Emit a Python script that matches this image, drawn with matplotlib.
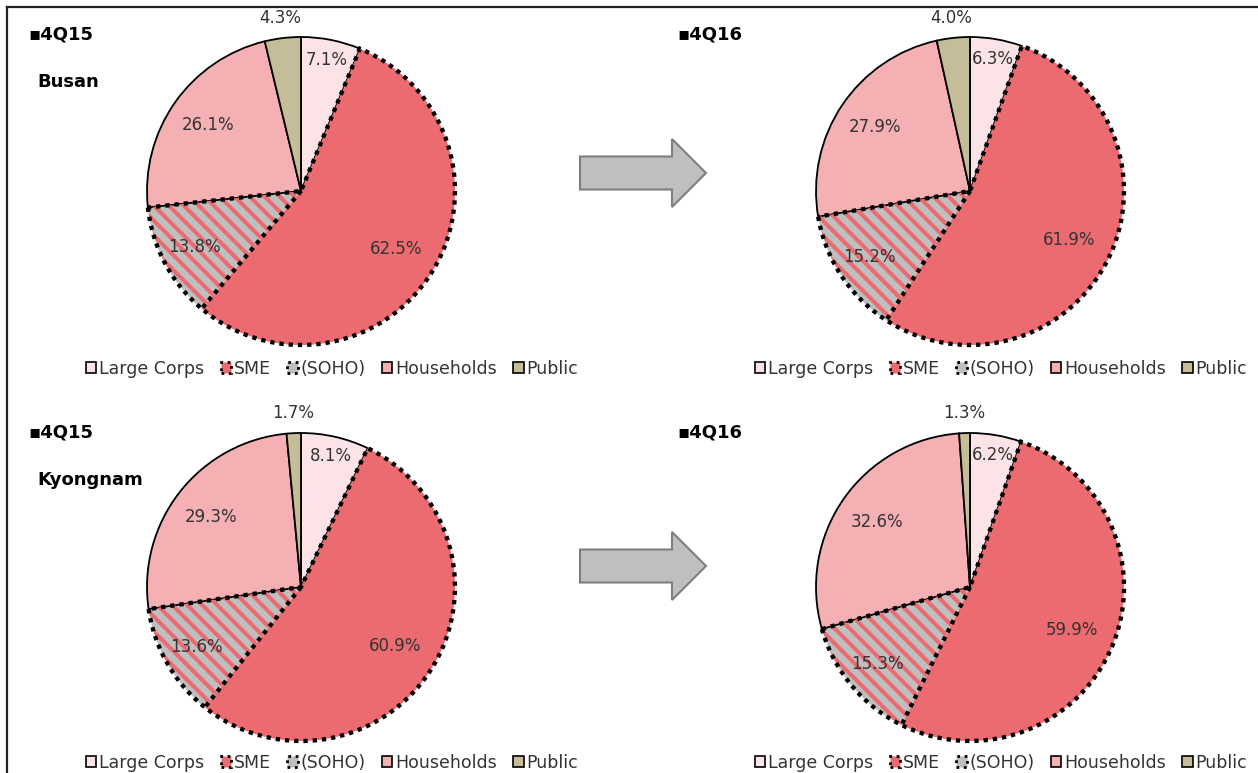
import numpy as np
import matplotlib
matplotlib.use('Agg')
import matplotlib.pyplot as plt
from matplotlib.patches import Wedge, FancyArrow, Patch
from matplotlib.lines import Line2D

plt.rcParams['font.family'] = ['DejaVu Sans']

# shares in %; SOHO is drawn as its own slice next to SME
regions = ['Busan', 'Kyongnam']
periods = ['4Q15', '4Q16']
categories = ['Large Corps', 'SME', '(SOHO)', 'Households', 'Public']
large_corps = [[7.1, 6.3], [8.1, 6.2]]
sme = [[62.5, 61.9], [60.9, 59.9]]
soho = [[13.8, 15.2], [13.6, 15.3]]
households = [[26.1, 27.9], [29.3, 32.6]]
public = [[4.3, 4.0], [1.7, 1.3]]

C_LC = '#FCE4E6'
C_SME = '#EC6B70'
C_SOHO = '#BFBFBF'
C_HH = '#F4B0B3'
C_PUB = '#C4BD97'

W, H = 1258, 773
R_PX = 154
LIM = 1.35
centers_x = [301, 970]
centers_y = [191, 587]

lab_dist = [0.87, 0.72, 0.78, 0.74, 1.13]

fig = plt.figure(figsize=(W / 100, H / 100), dpi=100)

# overlay for frame and arrows, in pixel units
ov = fig.add_axes([0, 0, 1, 1], zorder=0)
ov.set_xlim(0, W)
ov.set_ylim(H, 0)
ov.axis('off')
ov.add_line(Line2D([7, W], [7, 7], color='#222222', lw=1.6))
ov.add_line(Line2D([7, 7], [7, H], color='#222222', lw=1.6))
for ay in [173, 566]:
    ov.add_patch(FancyArrow(580, ay, 126, 0, width=33, head_width=68, head_length=34,
                            length_includes_head=True, fc='#BFBFBF', ec='#7F7F7F', lw=1.5))


def draw_pie(cx, cy, lc, sm, so, hh, pb):
    half = R_PX * LIM
    ax = fig.add_axes([(cx - half) / W, 1 - (cy + half) / H, 2 * half / W, 2 * half / H], zorder=2)
    vals = [lc, sm, so, hh, pb]
    wedges, _ = ax.pie(vals, startangle=90, counterclock=False, radius=1,
                       colors=[C_LC, C_SME, C_SOHO, C_HH, C_PUB],
                       wedgeprops=dict(edgecolor='black', linewidth=1.3))
    wedges[1].set_linewidth(0)
    wedges[2].set_linewidth(0)
    # red diagonal stripes on the SOHO slice
    step = 10.6 / R_PX
    u = np.array([1, -1]) / np.sqrt(2)
    n = np.array([1, 1]) / np.sqrt(2)
    for k in np.arange(-1.5, 1.5, step):
        p0 = k * n - 1.5 * u
        p1 = k * n + 1.5 * u
        ln = Line2D([p0[0], p1[0]], [p0[1], p1[1]], color=C_SME, lw=2.9, zorder=3)
        ax.add_line(ln)
        ln.set_clip_path(wedges[2])
    dot = (0, (1, 1.15))
    ax.add_patch(Wedge((0, 0), 1, wedges[2].theta1, wedges[1].theta2, fill=False,
                       ec='black', lw=3.1, linestyle=dot, zorder=5))
    a = np.deg2rad(wedges[1].theta1)
    ax.add_line(Line2D([0, np.cos(a)], [0, np.sin(a)], color='black', lw=3.1,
                       linestyle=dot, zorder=5))
    for i, w in enumerate(wedges):
        mid = np.deg2rad((w.theta1 + w.theta2) / 2)
        ax.text(lab_dist[i] * np.cos(mid), lab_dist[i] * np.sin(mid), '{:.1f}%'.format(vals[i]),
                ha='center', va='center', fontsize=12, color='#333333', zorder=6)
    ax.set_xlim(-LIM, LIM)
    ax.set_ylim(-LIM, LIM)
    ax.set_aspect('equal')
    ax.axis('off')


handles = [Patch(fc=C_LC, ec='black', lw=1.2),
           Patch(fc=C_SME, ec='black', lw=2, linestyle=':'),
           Patch(fc=C_SOHO, ec='black', lw=2, linestyle=':'),
           Patch(fc=C_HH, ec='black', lw=1.2),
           Patch(fc=C_PUB, ec='black', lw=1.2)]

for r in range(2):
    for p in range(2):
        cx, cy = centers_x[p], centers_y[r]
        draw_pie(cx, cy, large_corps[r][p], sme[r][p], soho[r][p], households[r][p], public[r][p])
        ty = 35 + 398 * r
        tx = 28 + 649 * p
        fig.text(tx / W, 1 - ty / H, '\u25aa' + periods[p], fontsize=13, fontweight='bold',
                 ha='left', va='center')
        if p == 0:
            fig.text(37 / W, 1 - (ty + 47) / H, regions[r], fontsize=13, fontweight='bold',
                     ha='left', va='center')
        ly = 369 + 394 * r
        fig.legend(handles, categories, loc='center left', ncol=5,
                   bbox_to_anchor=((cx - 215) / W, 1 - ly / H), frameon=False, fontsize=12.5,
                   handlelength=0.6, handleheight=0.6, handletextpad=0.15, columnspacing=0.95,
                   borderpad=0, borderaxespad=0, labelcolor='#333333')

fig.savefig('out.png', dpi=100)
